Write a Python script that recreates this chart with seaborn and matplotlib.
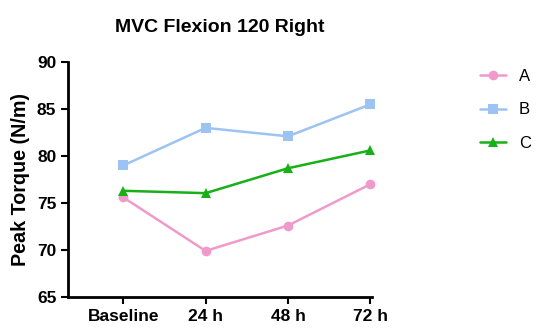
import numpy as np
import pandas as pd
import matplotlib
matplotlib.use("Agg")
import matplotlib.pyplot as plt
import seaborn as sns

timepoints = ["Baseline", "24 h", "48 h", "72 h"]
group_a = [75.6, 69.9, 72.6, 77.0]
group_b = [79.0, 83.0, 82.1, 85.5]
group_c = [76.3, 76.05, 78.7, 80.6]

sns.set_style("ticks", {"axes.edgecolor": "black", "text.color": "black",
                        "axes.labelcolor": "black", "xtick.color": "black",
                        "ytick.color": "black"})
plt.rcParams['font.family'] = ['Liberation Sans', 'DejaVu Sans']

df = pd.DataFrame({
    "time": list(range(4)) * 3,
    "torque": group_a + group_b + group_c,
    "group": ["A"] * 4 + ["B"] * 4 + ["C"] * 4,
})

colors = {"A": "#F09ACB", "B": "#9CC3F2", "C": "#17B017"}
markers = {"A": "o", "B": "s", "C": "^"}

fig = plt.figure(figsize=(5.36, 3.34), dpi=100)
ax = fig.add_axes([0.127, 0.111, 0.567, 0.703])
sns.lineplot(data=df, x="time", y="torque", hue="group", style="group",
             palette=colors, markers=markers, dashes=False, markersize=7,
             markeredgewidth=0, linewidth=1.8, ax=ax, clip_on=False)

ax.set_xlim(-0.67, 3.02)
ax.set_ylim(65, 90)
ax.set_yticks([65, 70, 75, 80, 85, 90])
ax.set_xticks(range(4))
ax.set_xticklabels(timepoints)
for lab in ax.get_xticklabels() + ax.get_yticklabels():
    lab.set_fontweight("bold")
    lab.set_fontsize(12.5)
ax.tick_params(width=1.5, length=5, color="black")
for s in ["left", "bottom"]:
    ax.spines[s].set_linewidth(2)
sns.despine(ax=ax)
ax.set_xlabel("")
ax.set_ylabel("Peak Torque (N/m)", fontsize=14.2, fontweight="bold", labelpad=5)
ax.set_title("MVC Flexion 120 Right", fontsize=14, fontweight="bold", pad=22)

ax.get_legend().remove()
handles, labels = ax.get_legend_handles_labels()
fig.legend(handles, labels, loc="upper left", bbox_to_anchor=(0.867, 0.838),
           frameon=False, fontsize=12, handlelength=1.6, labelspacing=1.1,
           handletextpad=0.74)

fig.savefig("out.png", dpi=100)
